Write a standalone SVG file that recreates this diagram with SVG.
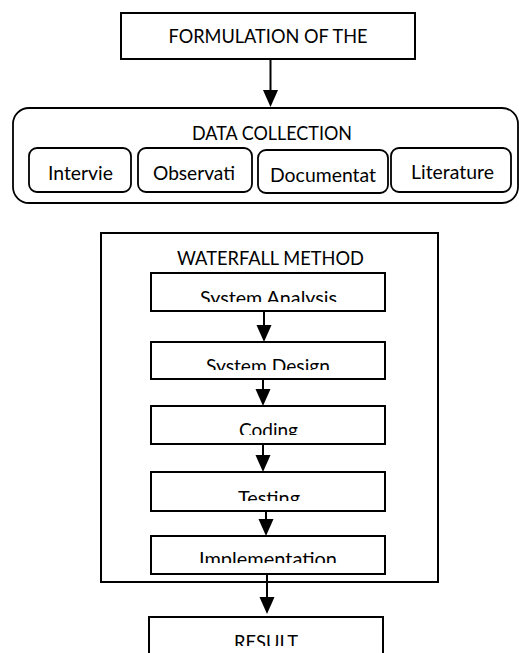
<svg xmlns="http://www.w3.org/2000/svg" width="519" height="653" viewBox="0 0 519 653">
<style>
.box{fill:#fff;stroke:#000;stroke-width:2}
.rbox{fill:#fff;stroke:#000;stroke-width:1.8}
.t{font-family:Lato,"Liberation Sans",sans-serif;font-size:19px;fill:#000;text-anchor:middle}
.ln{stroke:#000;stroke-width:2;fill:none}
.ah{fill:#000}
</style>
<defs>
<clipPath id="cSA"><rect x="151" y="273" width="234" height="29"/></clipPath>
<clipPath id="cSD"><rect x="151" y="342" width="234" height="28"/></clipPath>
<clipPath id="cCO"><rect x="151" y="406" width="234" height="29"/></clipPath>
<clipPath id="cTE"><rect x="151" y="472" width="234" height="29"/></clipPath>
<clipPath id="cIM"><rect x="151" y="536" width="234" height="27"/></clipPath>
<clipPath id="cRE"><rect x="149" y="617" width="234" height="29"/></clipPath>
</defs>
<rect width="519" height="653" fill="#fff"/>

<g id="formulation">
<rect class="box" x="121" y="13" width="294" height="46"/>
<text class="t" x="268" y="43" textLength="199" lengthAdjust="spacingAndGlyphs">FORMULATION OF THE</text>
</g>

<g id="data-collection">
<rect class="rbox" x="13" y="108" width="505" height="95" rx="16"/>
<text class="t" x="272" y="140" textLength="160" lengthAdjust="spacingAndGlyphs">DATA COLLECTION</text>
</g>
<g id="interview">
<rect class="rbox" x="29" y="148" width="102" height="44" rx="8"/>
<text class="t" x="80.5" y="180" textLength="65" lengthAdjust="spacingAndGlyphs">Intervie</text>
</g>
<g id="observation">
<rect class="rbox" x="138" y="148" width="114" height="44" rx="8"/>
<text class="t" x="194" y="180" textLength="82" lengthAdjust="spacingAndGlyphs">Observati</text>
</g>
<g id="documentation">
<rect class="rbox" x="258" y="150" width="130" height="43" rx="8"/>
<text class="t" x="323" y="182" textLength="106" lengthAdjust="spacingAndGlyphs">Documentat</text>
</g>
<g id="literature">
<rect class="rbox" x="391" y="148" width="120" height="44" rx="8"/>
<text class="t" x="452.5" y="179" textLength="83" lengthAdjust="spacingAndGlyphs">Literature</text>
</g>

<g id="waterfall">
<rect class="box" x="101" y="233" width="337" height="349"/>
<text class="t" x="270.5" y="265" textLength="187" lengthAdjust="spacingAndGlyphs">WATERFALL METHOD</text>
</g>
<g id="system-analysis">
<rect class="box" x="151" y="273" width="234" height="38"/>
<text class="t" x="268.5" y="305" clip-path="url(#cSA)" textLength="137" lengthAdjust="spacingAndGlyphs">System Analysis</text>
</g>
<g id="system-design">
<rect class="box" x="151" y="342" width="234" height="37"/>
<text class="t" x="268" y="373" clip-path="url(#cSD)" textLength="124" lengthAdjust="spacingAndGlyphs">System Design</text>
</g>
<g id="coding">
<rect class="box" x="151" y="406" width="234" height="38"/>
<text class="t" x="268.5" y="437" clip-path="url(#cCO)" textLength="59" lengthAdjust="spacingAndGlyphs">Coding</text>
</g>
<g id="testing">
<rect class="box" x="151" y="472" width="234" height="39"/>
<text class="t" x="269" y="505" clip-path="url(#cTE)" textLength="62" lengthAdjust="spacingAndGlyphs">Testing</text>
</g>
<g id="implementation">
<rect class="box" x="151" y="536" width="234" height="38"/>
<text class="t" x="268" y="566" clip-path="url(#cIM)" textLength="138" lengthAdjust="spacingAndGlyphs">Implementation</text>
</g>
<g id="result">
<rect class="box" x="149" y="617" width="234" height="50"/>
<text class="t" x="266" y="649" clip-path="url(#cRE)" textLength="64" lengthAdjust="spacingAndGlyphs">RESULT</text>
</g>

<g id="connectors">
<line class="ln" x1="270.5" y1="59" x2="270.5" y2="91"/>
<polygon class="ah" points="263,90 278,90 270.5,107"/>
<line class="ln" x1="264" y1="311" x2="264" y2="326"/>
<polygon class="ah" points="256.5,325 271.5,325 264,342"/>
<line class="ln" x1="263" y1="379" x2="263" y2="390"/>
<polygon class="ah" points="255.5,389 270.5,389 263,406"/>
<line class="ln" x1="263" y1="444" x2="263" y2="456"/>
<polygon class="ah" points="255.5,455 270.5,455 263,472"/>
<line class="ln" x1="266" y1="511" x2="266" y2="520"/>
<polygon class="ah" points="258.5,519 273.5,519 266,536"/>
<line class="ln" x1="267" y1="574" x2="267" y2="598"/>
<polygon class="ah" points="259.5,597 274.5,597 267,614"/>
</g>
</svg>
